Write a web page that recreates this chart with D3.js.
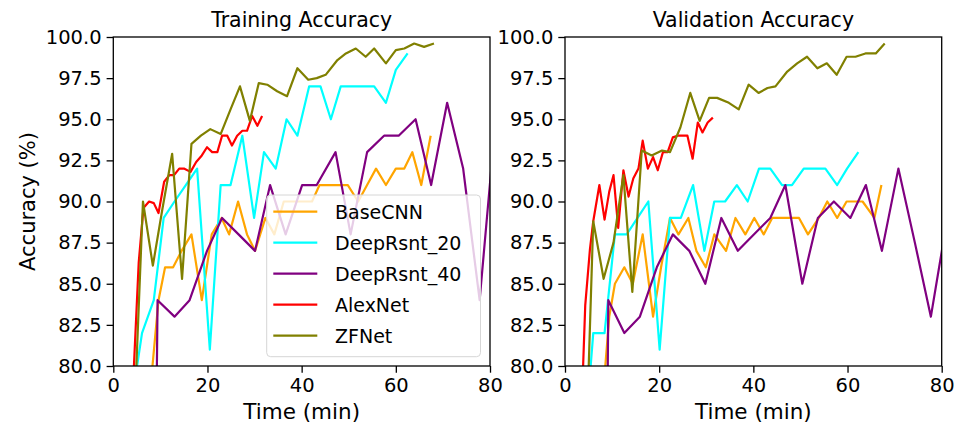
<!DOCTYPE html>
<html>
<head>
<meta charset="utf-8">
<script src="https://cdn.jsdelivr.net/npm/d3@7"></script>
<style>
  body { margin: 0; background: #fff; }
  svg { font-family: "DejaVu Sans", sans-serif; }
</style>
</head>
<body>
<svg id="chart" width="954" height="427"></svg>
<script>
// Series names and colours (legend order = drawing order)
const models = ["BaseCNN", "DeepRsnt_20", "DeepRsnt_40", "AlexNet", "ZFNet"];
const colors = ["orange", "cyan", "purple", "red", "olive"];

const xTicks = [0, 20, 40, 60, 80];
const yTicks = [80, 82.5, 85, 87.5, 90, 92.5, 95, 97.5, 100];

// [time (min), accuracy (%)]
const baseCnnTrain = [[8.0,79],[9.6,84],[11.0,86],[12.7,86],[14.5,87],[16.6,88],[18.8,84],[20.9,88],[23.0,89],[24.6,88],[26.5,90],[28.4,88],[30.1,87],[32.3,89],[34.2,88],[36.2,90],[38.2,90],[40.2,90],[42.2,90],[43.8,91],[45.8,91],[47.8,91],[49.8,91],[52.0,90],[53.9,91],[55.8,92],[57.9,91],[60.0,92],[61.8,92],[63.5,93],[65.4,91],[67.4,94]];
const rsnt20Train = [[4.0,78],[6.1,82],[8.6,84],[10.7,89],[13.0,90],[15.4,91],[17.8,92],[20.5,81],[22.8,91],[24.9,91],[27.4,94],[29.9,89],[32.0,93],[34.5,92],[36.8,95],[39.1,94],[41.6,97],[44.0,97],[46.2,95],[48.3,97],[50.7,97],[53.0,97],[55.4,97],[57.9,96],[60.0,98],[62.5,99]];
const rsnt40Train = [[8.9,70],[9.4,84],[13.0,83],[16.2,84],[19.9,87],[23.1,89],[26.6,88],[30.1,87],[33.3,91],[36.6,88],[40.1,91],[43.2,91],[47.2,93],[50.4,88],[53.9,93],[57.5,94],[60.6,94],[64.2,95],[67.5,91],[70.9,96],[74.3,92],[77.8,84],[81.2,95]];
const alexTrain = [[4.3,79.5],[5.4,86.3],[6.4,89.6],[7.6,90.0],[8.6,89.9],[9.6,89.3],[10.8,91.2],[11.9,91.6],[12.9,91.6],[14.0,92.0],[15.0,92.0],[16.4,91.8],[17.6,92.4],[18.8,92.8],[19.9,93.3],[21.0,93.0],[22.1,93.0],[23.1,94.0],[24.2,94.0],[25.2,93.4],[26.3,94.0],[27.4,94.3],[28.4,94.3],[29.5,95.2],[30.6,94.6],[31.6,95.2]];
const zfTrain = [[4.2,75],[6.3,90.0],[8.4,86.1],[10.4,89.5],[12.5,92.9],[14.6,85.3],[16.6,93.5],[18.6,94.0],[20.6,94.4],[22.8,94.1],[24.9,95.6],[26.9,97.0],[29.0,94.9],[30.9,97.2],[32.7,97.1],[34.8,96.7],[36.9,96.4],[39.1,98.1],[41.4,97.4],[43.2,97.5],[45.1,97.7],[47.6,98.6],[49.4,99.0],[51.5,99.3],[53.6,98.8],[55.4,99.3],[57.9,98.4],[60.0,99.2],[61.8,99.3],[63.9,99.6],[66.0,99.4],[68.1,99.6]];

const baseCnnVal = [[8.0,78],[9.4,83],[10.6,85],[12.6,86],[14.4,85],[16.5,88],[18.7,83],[20.4,86],[22.3,89],[24.1,88],[26.2,89],[27.9,87],[29.9,86],[31.7,88],[34.2,87],[36.2,89],[38.3,88],[40.2,89],[42.2,88],[44.0,89],[45.9,89],[47.8,89],[49.7,89],[51.6,88],[53.9,89],[55.7,90],[57.8,89],[59.8,90],[61.5,90],[63.2,90],[65.7,89],[67.2,91]];
const rsnt20Val = [[4.9,78],[6.0,82],[8.4,82],[10.6,88],[13.1,88],[15.4,89],[17.7,90],[20.1,81],[22.3,89],[24.6,89],[27.2,91],[29.6,87],[31.7,90],[34.0,90],[36.5,91],[38.8,90],[41.2,92],[43.6,92],[46.1,91],[48.2,91],[50.7,92],[53.0,92],[55.3,92],[57.8,91],[59.9,92],[62.3,93]];
const rsnt40Val = [[8.8,70],[9.2,84],[12.6,82],[15.9,83],[19.5,86],[22.9,88],[26.4,87],[29.8,85],[33.2,89],[36.7,87],[40.1,88],[43.6,89],[46.8,91],[50.4,85],[53.7,89],[57.1,90],[60.6,89],[63.9,91],[67.3,87],[70.8,92],[74.3,87.5],[77.7,83],[81.2,89]];
const alexVal = [[3.6,78],[4.3,83.7],[5.3,87.1],[6.0,88.8],[7.3,91.0],[8.4,88.9],[9.4,90.6],[10.3,91.6],[11.3,88.4],[12.4,91.9],[13.5,90.3],[14.5,91.4],[15.6,92.0],[16.5,93.7],[17.6,92.0],[18.7,92.7],[19.7,91.9],[20.8,93.0],[21.8,93.0],[22.9,93.9],[23.9,94.0],[25.0,94.0],[26.0,94.0],[27.1,92.6],[28.2,94.8],[29.2,94.2],[30.3,94.8],[31.4,95.1]];
const zfVal = [[4.6,76],[6.0,88.8],[8.2,85.3],[10.3,87.5],[12.4,91.6],[14.3,84.5],[16.3,93.1],[18.4,92.8],[20.6,93.1],[22.3,93.0],[24.5,94.5],[26.6,96.6],[28.6,94.9],[30.6,96.3],[32.3,96.3],[34.8,96.0],[36.9,95.6],[39.0,97.1],[41.1,96.6],[43.0,96.9],[44.7,97.0],[47.2,97.9],[49.3,98.4],[51.4,98.8],[53.6,98.1],[55.6,98.4],[57.7,97.7],[59.8,98.8],[61.7,98.8],[63.8,99.0],[66.0,99.0],[67.9,99.6]];

const panels = [
  { title: "Training Accuracy", left: 113.3, series: [baseCnnTrain, rsnt20Train, rsnt40Train, alexTrain, zfTrain], legend: true, ylabel: true },
  { title: "Validation Accuracy", left: 565, series: [baseCnnVal, rsnt20Val, rsnt40Val, alexVal, zfVal], legend: false, ylabel: false }
];

const svg = d3.select("#chart");
const marginTop = 37, plotW = 376.7, plotH = 329;

const x = d3.scaleLinear().domain([0, 80]).range([0, plotW]);
const y = d3.scaleLinear().domain([80, 100]).range([plotH, 0]);
const line = d3.line().x(d => x(d[0])).y(d => y(d[1]));

panels.forEach((p, pi) => {
  const g = svg.append("g").attr("transform", `translate(${p.left},${marginTop})`);

  g.append("clipPath").attr("id", "clip" + pi)
    .append("rect").attr("width", plotW).attr("height", plotH);

  // lines
  const lines = g.append("g").attr("clip-path", `url(#clip${pi})`);
  p.series.forEach((s, i) => {
    lines.append("path")
      .datum(s)
      .attr("d", line)
      .attr("fill", "none")
      .attr("stroke", colors[i])
      .attr("stroke-width", 2.2)
      .attr("stroke-linejoin", "round");
  });

  // axes
  const xAxis = g.append("g").attr("transform", `translate(0,${plotH})`)
    .call(d3.axisBottom(x).tickValues(xTicks).tickSize(6.7).tickPadding(5).tickSizeOuter(0));
  const yAxis = g.append("g")
    .call(d3.axisLeft(y).tickValues(yTicks).tickFormat(d3.format(".1f")).tickSize(6.7).tickPadding(5).tickSizeOuter(0));
  [xAxis, yAxis].forEach(a => {
    a.select(".domain").remove();
    a.selectAll("line").attr("stroke", "#000").attr("stroke-width", 1.3);
    a.selectAll("text").attr("fill", "#000").style("font-size", "19.5px").style("font-family", "DejaVu Sans");
  });

  // frame
  g.append("rect").attr("width", plotW).attr("height", plotH)
    .attr("fill", "none").attr("stroke", "#000").attr("stroke-width", 1.3);

  // title and labels
  g.append("text").attr("x", plotW / 2).attr("y", -10)
    .attr("text-anchor", "middle").style("font-size", "20.5px").text(p.title);
  g.append("text").attr("x", plotW / 2).attr("y", plotH + 53)
    .attr("text-anchor", "middle").style("font-size", "21.5px").text("Time (min)");
  if (p.ylabel) {
    g.append("text")
      .attr("transform", `translate(${35 - p.left},${plotH / 2}) rotate(-90)`)
      .attr("text-anchor", "middle").style("font-size", "21px").text("Accuracy (%)");
  }

  // legend
  if (p.legend) {
    const lg = g.append("g").attr("transform", `translate(${266.7 - p.left},${195 - marginTop})`);
    lg.append("rect").attr("width", 213.8).attr("height", 161.7).attr("rx", 4)
      .attr("fill", "#fff").attr("fill-opacity", 0.8)
      .attr("stroke", "#d6d6d6").attr("stroke-width", 1);
    models.forEach((m, i) => {
      const cy = 16.7 + i * 31;
      lg.append("line").attr("x1", 6.6).attr("x2", 50.6).attr("y1", cy).attr("y2", cy)
        .attr("stroke", colors[i]).attr("stroke-width", 2.2);
      lg.append("text").attr("x", 68.3).attr("y", cy).attr("dy", "0.36em")
        .style("font-size", "19px").text(m);
    });
  }
});
</script>
</body>
</html>
